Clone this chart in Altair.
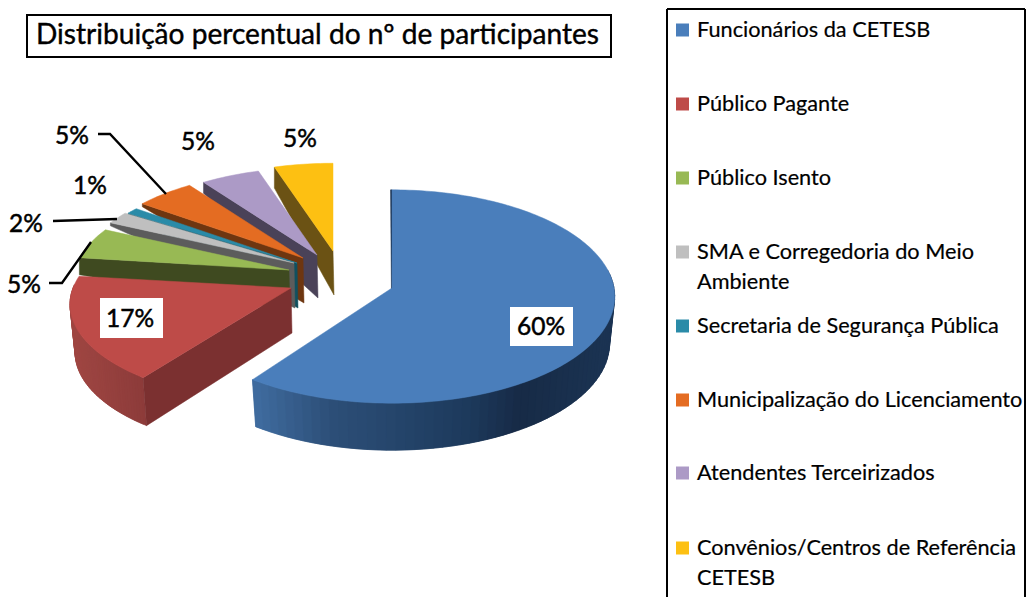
import numpy as np
import pandas as pd
import altair as alt

# ---------- values ----------
categories = ["Funcionários da CETESB", "Público Pagante", "Público Isento",
              "SMA e Corregedoria do Meio Ambiente", "Secretaria de Segurança Pública",
              "Municipalização do Licenciamento", "Atendentes Terceirizados",
              "Convênios/Centros de Referência CETESB"]
shares = [60, 17, 5, 2, 1, 5, 5, 5]
title_text = "Distribuição percentual do nº de participantes"
legend_lines = [["Funcionários da CETESB"], ["Público Pagante"], ["Público Isento"],
                ["SMA e Corregedoria do Meio", "Ambiente"], ["Secretaria de Segurança Pública"],
                ["Municipalização do Licenciamento"], ["Atendentes Terceirizados"],
                ["Convênios/Centros de Referência", "CETESB"]]

# ---------- styles ----------
top_colors = ["#4A7EBB", "#BE4B48", "#98B954", "#BFBFBF", "#2A8BA8", "#E46C22", "#AC9AC6", "#FDC012"]
wall_colors = ["#1B3352", "#7B3030", "#3F4A20", "#5C5C5C", "#10505F", "#6E3610", "#4A4258", "#6B5214"]
FONT = "Lato"

# ---------- exploded 3D layout ----------
apex_x = [392, 291, 289, 294, 297, 303, 317, 333]
apex_y = [288, 288, 270, 263, 263, 258, 255, 251]
semi_a = [222, 218, 215, 215, 215, 215, 215, 215]
semi_b = [106, 96, 100, 100, 100, 100, 100, 100]
persp = [0.08, 0.165, 0.14, 0.14, 0.14, 0.14, 0.14, 0.14]
apex_depth = [10, 45, 40, 45, 45, 45, 43, 44]
rim_depth = [0, 48, 17, 3, 2, 3, 11, 21]
shrink = 0.977

edges = np.deg2rad(np.cumsum([0] + shares) * 3.6)


def rim(i, t):
    d = 1 + persp[i] * np.cos(t)
    return apex_x[i] + semi_a[i] * np.sin(t) / d, apex_y[i] - semi_b[i] * np.cos(t) / d


rows = []
pid = 0


def poly(pts, color):
    global pid
    pts = list(pts) + [pts[0]]
    for n, (x, y) in enumerate(pts):
        rows.append({"pid": pid, "n": n, "x": float(x), "y": float(y), "c": color})
    pid += 1


def outer_wall(i, t0, t1, xs, cols, depth):
    grid = np.linspace(t0, t1, 60)
    step = grid[1] - grid[0]
    sx = lambda v: apex_x[i] + (v - apex_x[i]) * shrink
    for a in grid[:-1]:
        b = min(a + 2 * step, t1)
        xa, ya = rim(i, a)
        xb, yb = rim(i, b)
        mid = rim(i, a + step / 2)[0]
        r = int(np.interp(mid, xs, [int(c[1:3], 16) for c in cols]))
        g = int(np.interp(mid, xs, [int(c[3:5], 16) for c in cols]))
        bl = int(np.interp(mid, xs, [int(c[5:7], 16) for c in cols]))
        poly([(xa, ya), (xb, yb), (sx(xb), yb + depth), (sx(xa), ya + depth)], f"#{r:02X}{g:02X}{bl:02X}")


for i in [7, 6, 5, 4, 3, 2, 1, 0]:
    t0, t1 = edges[i], edges[i + 1]
    xr, yr = rim(i, t0)
    if i == 0:
        outer_wall(0, np.deg2rad(80), t1, [257, 330, 400, 470, 520, 600],
                   ["#3F6B9E", "#2D4F78", "#25456B", "#1D3A5C", "#172B47", "#1B3352"], 47)
        poly([(xr, yr), (apex_x[0], apex_y[0]), (apex_x[0] - 0.5, apex_y[0] + apex_depth[0]), (xr - 1.5, yr)], wall_colors[0])
    else:
        if i == 1:
            outer_wall(1, t0, np.deg2rad(272), [70, 147], ["#A04743", "#8C3B3A"], 48)
            xb = apex_x[1] + (xr - apex_x[1]) * shrink
        else:
            xb = xr
        poly([(xr, yr), (apex_x[i], apex_y[i]), (apex_x[i] + 1, apex_y[i] + apex_depth[i]), (xb, yr + rim_depth[i])], wall_colors[i])
    arc = [rim(i, t) for t in np.linspace(t0, t1, max(6, int(shares[i] * 3)))]
    poly([(apex_x[i], apex_y[i])] + arc, top_colors[i])

pie_df = pd.DataFrame(rows)

X = alt.X("x:Q", axis=None, scale=alt.Scale(domain=[8, 1026], nice=False, zero=False))
Y = alt.Y("y:Q", axis=None, scale=alt.Scale(domain=[597, 8], nice=False, zero=False))

pie = alt.Chart(pie_df).mark_line(filled=True, strokeWidth=0.5, strokeJoin="round").encode(
    x=X, y=Y, detail="pid:N", order="n:Q",
    fill=alt.Fill("c:N", scale=None), stroke=alt.Stroke("c:N", scale=None))

# ---------- frames ----------
title_box = alt.Chart(pd.DataFrame({"x": [27], "x2": [611], "y": [15], "y2": [57]})).mark_rect(
    fill="white", stroke="black", strokeWidth=2).encode(x=X, x2="x2:Q", y=Y, y2="y2:Q")
frame_df = pd.DataFrame({"id": ["l", "l", "t", "t", "r", "r"],
                         "n": [0, 1, 0, 1, 0, 1],
                         "x": [667, 667, 667, 1025, 1025, 1025],
                         "y": [597, 9, 9, 9, 9, 597]})
frame = alt.Chart(frame_df).mark_line(color="black", strokeWidth=2).encode(
    x=X, y=Y, detail="id:N", order="n:Q")

# ---------- leader lines ----------
lead_df = pd.DataFrame({"id": [0, 0, 0, 1, 1, 2, 2, 2], "n": [0, 1, 2, 0, 1, 0, 1, 2],
                        "x": [98, 110, 166, 53, 117, 49, 62, 91],
                        "y": [134, 134, 194, 221, 219, 283, 283, 242]})
leads = alt.Chart(lead_df).mark_line(color="black", strokeWidth=2.4).encode(
    x=X, y=Y, detail="id:N", order="n:Q")

# ---------- data labels ----------
box_df = pd.DataFrame({"x": [510, 100], "x2": [573, 163], "y": [307, 298], "y2": [346, 338]})
boxes = alt.Chart(box_df).mark_rect(fill="white").encode(x=X, x2="x2:Q", y=Y, y2="y2:Q")
lab_df = pd.DataFrame({"t": [f"{s}%" for s in shares],
                       "x": [541, 130, 24, 26, 90, 72, 198, 300],
                       "y": [328, 320, 286, 225, 187, 137, 143, 140]})
labels = alt.Chart(lab_df).mark_text(font=FONT, fontSize=24.5, color="black", stroke="black", strokeWidth=0.5,
                                     align="center", baseline="middle").encode(x=X, y=Y, text="t:N")

# ---------- title ----------
title_df = pd.DataFrame({"t": [title_text], "x": [36], "y": [36]})
title = alt.Chart(title_df).mark_text(font=FONT, fontSize=28.1, color="black", stroke="black", strokeWidth=0.4,
                                      align="left", baseline="middle").encode(x=X, y=Y, text="t:N")

# ---------- legend ----------
row_y = [30, 104, 178, 252, 326, 400, 473, 548]
leg_sq = alt.Chart(pd.DataFrame({"x": [682.5] * 8, "y": row_y, "c": top_colors})).mark_square(
    size=169, opacity=1).encode(x=X, y=Y, fill=alt.Fill("c:N", scale=None))
leg_rows = []
for yy, lines in zip(row_y, legend_lines):
    for j, line in enumerate(lines):
        leg_rows.append({"t": line, "x": 697, "y": yy + j * 30})
leg_text = alt.Chart(pd.DataFrame(leg_rows)).mark_text(font=FONT, fontSize=21.7, color="black", stroke="black", strokeWidth=0.2,
                                                       align="left", baseline="middle").encode(x=X, y=Y, text="t:N")

chart = alt.layer(frame, title_box, title, pie, leads, boxes, labels, leg_sq, leg_text).properties(
    width=1018, height=589, padding=0, background="white", autosize=alt.AutoSizeParams(type="none")
).configure_view(stroke=None)

chart.save("out.html", embed_options={"renderer": "svg", "actions": False})
